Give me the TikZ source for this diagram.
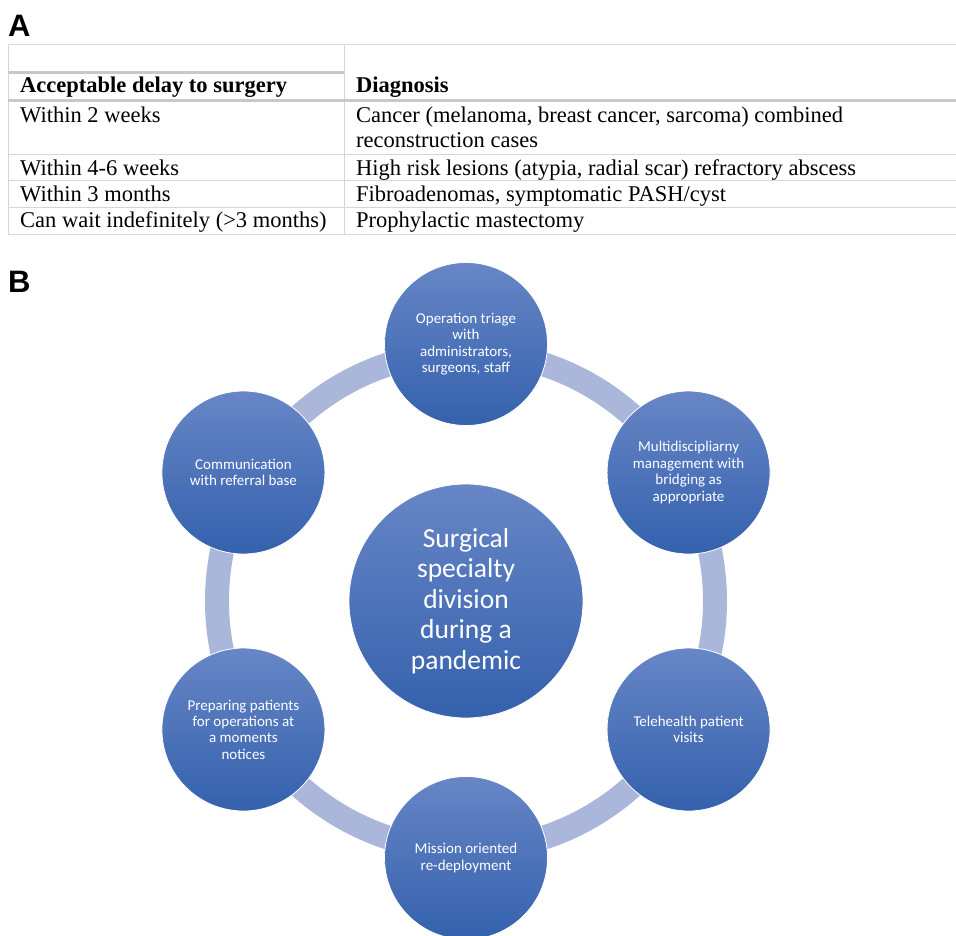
\documentclass[tikz,border=0pt]{standalone}
\usepackage{fontspec}
\setmainfont{Liberation Serif}
\newfontfamily\bubblefont{Carlito}
\newfontfamily\panelfont{Liberation Sans}
\usetikzlibrary{positioning}
\usepackage{xcolor}

\definecolor{ringblue}{HTML}{AAB7DB}
\definecolor{bubbletop}{HTML}{6786C6}
\definecolor{bubblebot}{HTML}{3461AD}
\definecolor{rulegray}{HTML}{D6D6D6}
\definecolor{headgray}{HTML}{C8C8C8}

\begin{document}
\begin{tikzpicture}[
    x=1pt, y=1pt,
    panel/.style={anchor=base west, inner sep=0pt, font=\panelfont\bfseries\fontsize{31}{31}\selectfont},
    cell/.style={anchor=base west, inner sep=0pt, font=\fontsize{22.5}{25}\selectfont},
    headcell/.style={cell, font=\bfseries\fontsize{22.5}{25}\selectfont},
    thinrule/.style={draw=rulegray, line width=1pt},
    thickrule/.style={draw=headgray, line width=3pt},
    bubble/.style={circle, minimum size=163pt, inner sep=0pt, draw=white, line width=0.8pt,
        top color=bubbletop, bottom color=bubblebot, text=white, align=center,
        font=\bubblefont\fontsize{15}{16.4}\selectfont},
    hub/.style={bubble, minimum size=234pt, font=\bubblefont\fontsize{27.5}{30.5}\selectfont},
    ring/.style={draw=ringblue, line width=24pt}
]
\useasboundingbox (0,0) rectangle (956,-935);

% Panel letters
\node[panel] (panelA) at (8,-36) {A};
\node[panel] (panelB) at (8,-292) {B};

% Table rules
\draw[thinrule] (8,-44) -- (956,-44);
\draw[thinrule] (8,-44) -- (8,-234);
\draw[thinrule] (344,-44) -- (344,-234);
\draw[thickrule] (8,-72) -- (344,-72);
\draw[thickrule] (8,-100) -- (956,-100);
\foreach \ry in {154,180,207,234}
    \draw[thinrule] (8,-\ry) -- (956,-\ry);

% Table header
\node[headcell] (delayhead) at (20,-92) {Acceptable delay to surgery};
\node[headcell] (diaghead) at (356,-92) {Diagnosis};

% Table rows
\node[cell] (delayone) at (20,-122) {Within 2 weeks};
\node[cell] (diagone) at (356,-122) {Cancer (melanoma, breast cancer, sarcoma) combined};
\node[cell] (diagonecont) at (356,-147) {reconstruction cases};
\node[cell] (delaytwo) at (20,-175) {Within 4-6 weeks};
\node[cell] (diagtwo) at (356,-175) {High risk lesions (atypia, radial scar) refractory abscess};
\node[cell] (delaythree) at (20,-201) {Within 3 months};
\node[cell] (diagthree) at (356,-201) {Fibroadenomas, symptomatic PASH/cyst};
\node[cell] (delayfour) at (20,-227) {Can wait indefinitely (>3 months)};
\node[cell] (diagfour) at (356,-227) {Prophylactic mastectomy};

% Cycle: ring behind the bubbles
\coordinate (centre) at (466,-601);
\draw[ring] (centre) circle (249);

% Central hub
\node[hub] (division) at (centre) {Surgical\\specialty\\division\\during a\\pandemic};

% Surrounding bubbles
\node[bubble] (triage) at ([shift={(90:257)}]centre) {Operation triage\\with\\administrators,\\surgeons, staff};
\node[bubble] (bridging) at ([shift={(30:257)}]centre) {Multidiscipliarny\\management with\\bridging as\\appropriate};
\node[bubble] (telehealth) at ([shift={(-30:257)}]centre) {Telehealth patient\\visits};
\node[bubble] (mission) at ([shift={(-90:257)}]centre) {Mission oriented\\re-deployment};
\node[bubble] (preparing) at ([shift={(-150:257)}]centre) {Preparing patients\\for operations at\\a moments\\notices};
\node[bubble] (referral) at ([shift={(150:257)}]centre) {Communication\\with referral base};

\end{tikzpicture}
\end{document}
